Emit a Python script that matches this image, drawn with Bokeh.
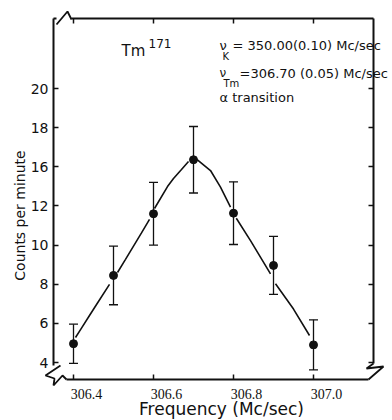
import math
from bokeh.plotting import figure
from bokeh.models import (ColumnDataSource, Whisker, TeeHead, Label, LabelSet,
                          LinearAxis, FixedTicker, CustomJSTickFormatter, Range1d)
from bokeh.embed import file_html
from bokeh.resources import INLINE

# ---------------- data ----------------
freq = [306.40, 306.50, 306.60, 306.70, 306.80, 306.90, 307.00]
counts = [4.96, 8.45, 11.60, 14.36, 11.63, 8.96, 4.90]
err = [1.00, 1.50, 1.60, 1.70, 1.60, 1.48, 1.28]

# drawn resonance curve (broken at each data point, NaN = gap)
nan = float("nan")
curve_freq = [306.405, 306.42, 306.44, 306.46, 306.49, nan,
              306.51, 306.53, 306.55, 306.57, 306.59, nan,
              306.6025, 306.635, 306.65, 306.67, 306.6875, nan,
              306.709, 306.7425, 306.7675, 306.78, 306.7925, nan,
              306.807, 306.8425, 306.8925, nan,
              306.905, 306.95, 306.99]
curve_counts = [5.28, 5.76, 6.40, 7.04, 7.99, nan,
                8.60, 9.27, 9.95, 10.62, 11.31, nan,
                11.87, 12.99, 13.40, 13.86, 14.27, nan,
                14.37, 13.81, 12.96, 12.45, 11.94, nan,
                11.37, 10.23, 8.53, nan,
                8.02, 6.73, 5.38]

x_ticks = [306.4, 306.6, 306.8, 307.0]
x_tick_labels = ["306.4", "306.6", "306.8", "307.0"]
y_ticks = [4, 6, 8, 10, 12, 14, 16, 18]
y_tick_labels = ["4", "6", "8", "10", "12", "16", "18", "20"]

# ---------------- geometry ----------------
W, H = 392, 420
# pixel anchors: 306.4 at px 73, 400 px per Mc/sec; 4 at py 362, 19.57 px per unit
X0 = 306.4 - 73 / 400.0
X1 = 306.4 + (W - 73) / 400.0
Y1 = 4 + 362 / 19.57
Y0 = 4 - (H - 362) / 19.57
INK = "#111111"
FONT = "DejaVu Sans"


def px2x(px):
    return X0 + px * (X1 - X0) / W


def py2y(py):
    return Y1 - py * (Y1 - Y0) / H


FL, FR, FT, FB = 53, 373, 18, 379   # where the drawn axes sit

p = figure(width=W, height=H, x_range=Range1d(X0, X1), y_range=Range1d(Y0, Y1),
           output_backend="svg", toolbar_location=None,
           x_axis_type=None, y_axis_type=None, min_border=0)
p.outline_line_color = None
p.background_fill_color = "white"
p.border_fill_color = "white"


def mk_axis(ticks, bounds, loc, overrides=None, blank=False):
    ax = LinearAxis(ticker=FixedTicker(ticks=ticks), bounds=bounds, fixed_location=loc)
    ax.axis_line_color = INK
    ax.axis_line_width = 2
    ax.major_tick_line_color = INK
    ax.major_tick_line_width = 1.5
    ax.major_tick_in = 5
    ax.major_tick_out = 0
    ax.minor_tick_line_color = None
    ax.major_label_text_font = FONT
    ax.major_label_text_font_size = "14px"
    ax.major_label_text_color = INK
    ax.major_label_standoff = 5
    if blank:
        ax.formatter = CustomJSTickFormatter(code="return ''")
        ax.major_label_standoff = 0
    if overrides:
        ax.major_label_overrides = overrides
    return ax


left = mk_axis(y_ticks, (py2y(365), py2y(FT)), px2x(FL),
               overrides={t: s for t, s in zip(y_ticks, y_tick_labels)})
right = mk_axis(y_ticks, (py2y(363), py2y(FT)), px2x(FR), blank=True)
bottom = mk_axis(x_ticks, (px2x(66), px2x(368)), py2y(FB), blank=True)
top = mk_axis(x_ticks, (px2x(71), px2x(FR)), py2y(FT), blank=True)
p.add_layout(left, "left")
p.add_layout(right, "right")
p.add_layout(bottom, "below")
p.add_layout(top, "above")

# axis break zigzags
zig = [
    [(53, 18), (56, 18)],
    [(56, 24), (67, 11), (71, 19)],
    [(60, 365), (45, 375), (54, 378), (53, 385), (62, 375), (66, 379)],
    [(373, 363), (366, 368), (383, 366), (368, 379)],
]
p.multi_line([[px2x(a) for a, b in z] for z in zig],
             [[py2y(b) for a, b in z] for z in zig],
             line_color=INK, line_width=1.8)

# curve
p.line(curve_freq, curve_counts, line_color=INK, line_width=1.6)

# error bars
src = ColumnDataSource(dict(x=freq, y=counts,
                            up=[c + e for c, e in zip(counts, err)],
                            lo=[c - e for c, e in zip(counts, err)]))
p.add_layout(Whisker(source=src, base="x", upper="up", lower="lo", dimension="height",
                     line_color=INK, line_width=1.3,
                     upper_head=TeeHead(size=9, line_color=INK, line_width=1.3),
                     lower_head=TeeHead(size=9, line_color=INK, line_width=1.3)))
p.scatter("x", "y", source=src, size=8, marker="circle", fill_color=INK, line_color=INK)

# x tick labels (set slightly to the right of the ticks as in the original)
xt = ColumnDataSource(dict(x=x_ticks, y=[py2y(393)] * len(x_ticks), t=x_tick_labels))
p.add_layout(LabelSet(source=xt, x="x", y="y", text="t", x_offset=13,
                      text_align="center", text_baseline="middle",
                      text_font=FONT, text_font_size="14px", text_color=INK))


def lab(px, py, text, size, **kw):
    p.add_layout(Label(x=px2x(px), y=py2y(py), text=text, text_font=FONT,
                       text_font_size=size, text_color=INK, **kw))


lab(19, 215, "Counts per minute", "14px", angle=math.pi / 2,
    text_align="center", text_baseline="middle")
lab(221, 408, "Frequency (Mc/sec)", "17px", text_align="center", text_baseline="middle")

lab(121, 59, "Tm", "15px")
lab(148, 47, "171", "12px")

lab(219, 52, "ν", "13px")
lab(222, 61, "K", "10px")
lab(232, 52, "= 350.00(0.10) Mc/sec", "13px")
lab(219, 79, "ν", "12px")
lab(223, 88, "Tm", "10px")
lab(239, 80, "=306.70 (0.05) Mc/sec", "13px")
lab(219, 104, "α  transition", "13px")

open("out.html", "w").write(file_html(p, INLINE))
